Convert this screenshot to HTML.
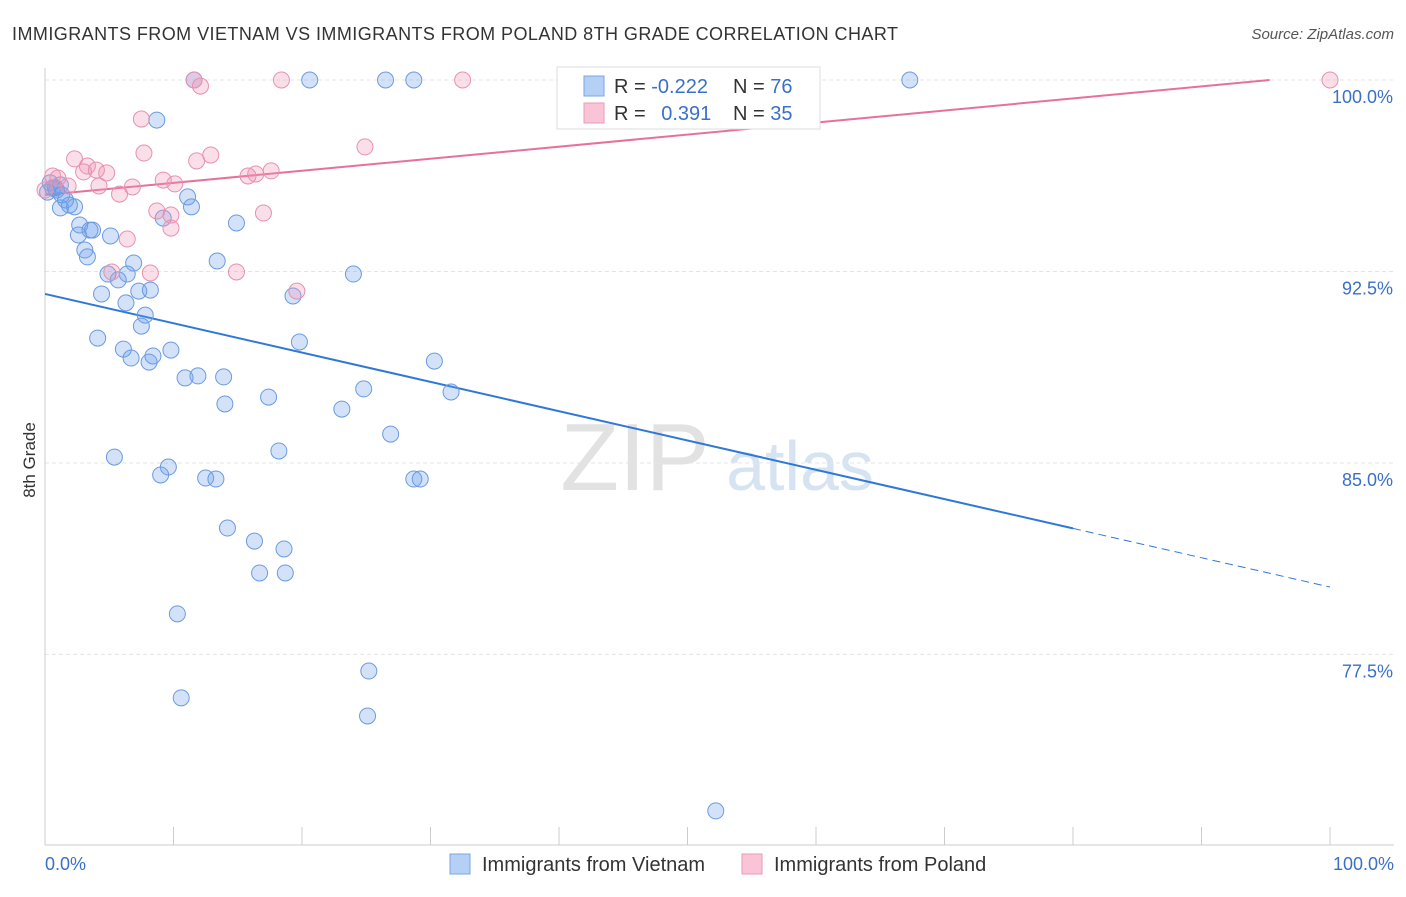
<!DOCTYPE html>
<html><head><meta charset="utf-8"><style>
body{margin:0;background:#fff;font-family:"Liberation Sans",sans-serif;}
svg text{font-family:"Liberation Sans",sans-serif;}
</style></head><body>
<svg width="1406" height="892" xmlns="http://www.w3.org/2000/svg">
<text x="12" y="40" font-size="18" fill="#333" textLength="886" lengthAdjust="spacing">IMMIGRANTS FROM VIETNAM VS IMMIGRANTS FROM POLAND 8TH GRADE CORRELATION CHART</text>
<text x="1394" y="39" font-size="15" fill="#555" font-style="italic" text-anchor="end">Source: ZipAtlas.com</text>
<g>
<text x="635" y="490" font-size="96" fill="#e2e2e2" font-family="Liberation Serif" text-anchor="middle">ZIP</text>
<text x="800" y="490" font-size="70" fill="#d6e3f3" text-anchor="middle">atlas</text>
</g>
<g id="grid"></g>
<g id="axes"></g>
<g id="lines"></g>
<g id="points"></g>
<text x="35" y="460" font-size="17" fill="#333" transform="rotate(-90 35 460)" text-anchor="middle">8th Grade</text>
<text x="45" y="870" font-size="18" fill="#3a70c8">0.0%</text>
<text x="1394" y="870" font-size="18" fill="#3a70c8" text-anchor="end">100.0%</text>
<g>
<rect x="557" y="67" width="263" height="62" fill="#fff" stroke="#ddd"/>
<rect x="584" y="76" width="20" height="20" fill="#b5d0f5" stroke="#7aa6e6"/>
<rect x="584" y="103" width="20" height="20" fill="#f9c5d6" stroke="#ec9ab7"/>
<text x="614" y="93" font-size="20" fill="#333">R = <tspan fill="#3a70c8">-0.222</tspan></text>
<text x="733" y="93" font-size="20" fill="#333">N = <tspan fill="#3a70c8">76</tspan></text>
<text x="614" y="120" font-size="20" fill="#333">R = <tspan fill="#3a70c8" dx="10">0.391</tspan></text>
<text x="733" y="120" font-size="20" fill="#333">N = <tspan fill="#3a70c8">35</tspan></text>
</g>
<g>
<rect x="450" y="854" width="20" height="20" fill="#b5d0f5" stroke="#7aa6e6"/>
<text x="482" y="871" font-size="20" fill="#333">Immigrants from Vietnam</text>
<rect x="742" y="854" width="20" height="20" fill="#f9c5d6" stroke="#ec9ab7"/>
<text x="774" y="871" font-size="20" fill="#333">Immigrants from Poland</text>
</g>
</svg>
<script>
const yTicks=[100,92.5,85,77.5];
const yTickLabels=["100.0%","92.5%","85.0%","77.5%"];
const xTicks=[0,10,20,30,40,50,60,70,80,90,100];
const vietX=[11.6,20.6,26.5,28.7,67.3,8.7,0.4,0.8,1.2,0.2,0.9,1.6,1.9,1.2,2.3,11.1,11.4,9.2,14.9,2.7,2.6,3.7,3.5,5.1,3.1,3.3,13.4,6.9,4.9,6.4,5.7,24.0,4.4,7.3,8.2,6.3,19.3,7.8,7.5,4.1,19.8,6.1,6.7,8.4,8.1,9.8,30.3,10.9,11.9,13.9,24.8,31.6,14.0,17.4,23.1,26.9,5.4,18.2,9.6,9.0,12.5,13.3,28.7,29.2,14.2,16.3,18.6,16.7,18.7,10.3,25.2,10.6,25.1,52.2,0.6,1.3];
const vietY=[100,100,100,100,100,98.43,95.97,95.77,95.89,95.61,95.69,95.30,95.10,94.99,95.03,95.42,95.03,94.59,94.40,94.32,93.93,94.12,94.12,93.89,93.34,93.07,92.91,92.83,92.40,92.40,92.17,92.40,91.62,91.73,91.77,91.27,91.54,90.79,90.36,89.89,89.74,89.46,89.11,89.19,88.95,89.42,88.99,88.33,88.41,88.37,87.90,87.78,87.31,87.58,87.11,86.13,85.23,85.47,84.84,84.53,84.41,84.37,84.37,84.37,82.45,81.94,81.63,80.69,80.69,79.09,76.85,75.80,75.09,71.37,95.77,95.50];
const polX=[11.6,18.4,32.5,100,12.1,7.5,7.7,24.9,12.9,2.3,11.8,3.3,0.6,1.0,3.0,4.0,4.8,9.2,10.1,16.4,17.6,15.8,1.8,4.2,6.8,5.8,8.7,9.8,17.0,9.8,6.4,5.2,8.2,14.9,19.6,0];
const polY=[100,100,100,100,99.76,98.47,97.14,97.38,97.06,96.91,96.83,96.63,96.24,96.16,96.40,96.47,96.36,96.08,95.93,96.32,96.44,96.24,95.85,95.85,95.81,95.53,94.87,94.71,94.79,94.20,93.77,92.48,92.44,92.48,91.73,95.69];
const vietTrend=[91.62,80.14];
const polTrend=[95.5,100];
const NS="http://www.w3.org/2000/svg";
const sx=v=>45+v*12.85;
const sy=v=>80+(100-v)*25.53;
function mk(tag,attrs,parent){const e=document.createElementNS(NS,tag);for(const k in attrs)e.setAttribute(k,attrs[k]);document.getElementById(parent).appendChild(e);return e;}
yTicks.forEach((t,i)=>{
 const l=mk('line',{x1:45,x2:1394,y1:sy(t),y2:sy(t),stroke:'#e4e4e4','stroke-dasharray':'4 3'},'grid');
 
 
 const tx=mk('text',{x:1393,y:sy(t)+23,'font-size':18,fill:'#3a70c8','text-anchor':'end'},'grid');
 tx.textContent=yTickLabels[i];
 
 
});
const ax=mk('line',{x1:45,x2:45,y1:68,y2:845,stroke:'#ccc'},'axes');


const bx=mk('line',{x1:45,x2:1394,y1:845,y2:845,stroke:'#ccc'},'axes');


xTicks.forEach(t=>{
 const l=mk('line',{x1:sx(t),x2:sx(t),y1:827,y2:845,stroke:'#ccc'},'axes');
 
 
});
function pts(xs,ys,fill,stroke,name){xs.forEach((x,i)=>{
 const c=mk('circle',{cx:sx(x),cy:sy(ys[i]),r:8,fill:fill,stroke:stroke,'stroke-width':1},'points');
 
 
});}
pts(vietX,vietY,'rgba(110,160,235,0.3)','#6a9be0','vietnam-point');
pts(polX,polY,'rgba(240,150,180,0.3)','#e890b0','poland-point');
const vAt=x=>vietTrend[0]+(vietTrend[1]-vietTrend[0])*x/100;
const v1=mk('line',{x1:sx(0),y1:sy(vAt(0)),x2:sx(80),y2:sy(vAt(80)),stroke:'#2f78d8','stroke-width':2},'lines');


const v2=mk('line',{x1:sx(80),y1:sy(vAt(80)),x2:sx(100),y2:sy(vAt(100)),stroke:'#2f78d8','stroke-width':1,'stroke-dasharray':'8 5'},'lines');


const pEnd=95.3;
const p1=mk('line',{x1:sx(0),y1:sy(polTrend[0]),x2:sx(pEnd),y2:sy(polTrend[1]),stroke:'#e8709a','stroke-width':2},'lines');


</script>
</body></html>
